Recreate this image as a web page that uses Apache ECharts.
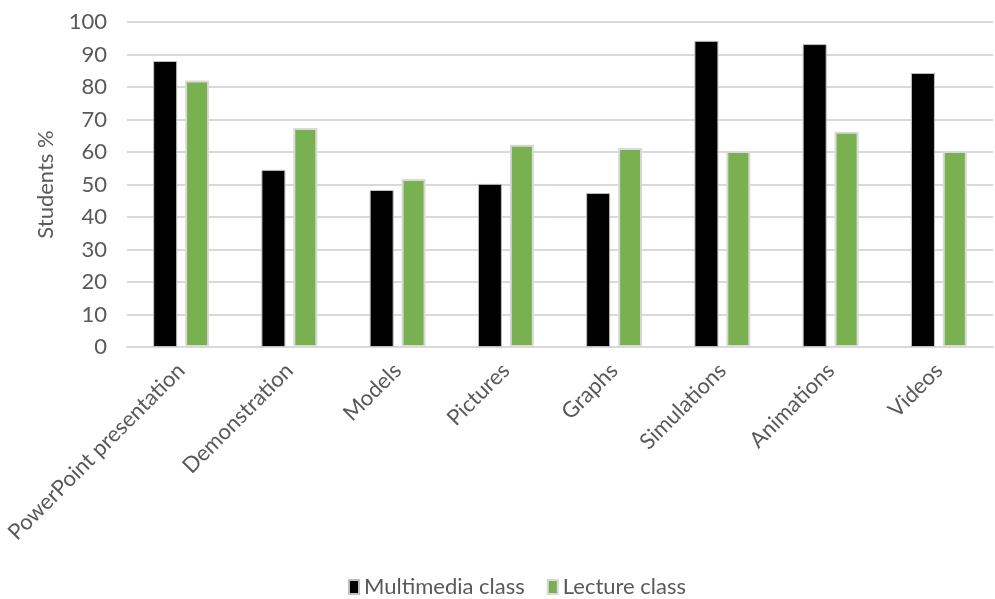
<!DOCTYPE html>
<html>
<head>
<meta charset="utf-8">
<script src="https://cdn.jsdelivr.net/npm/echarts@6/dist/echarts.min.js"></script>
<style>html,body{margin:0;padding:0;background:#fff;}#c{width:995px;height:599px;}</style>
</head>
<body>
<div id="c"></div>
<script>
const categories = ['PowerPoint presentation','Demonstration','Models','Pictures','Graphs','Simulations','Animations','Videos'];
const multimedia = [88, 54.5, 48.3, 50.2, 47.4, 94.2, 93.2, 84.3];
const lecture = [82, 67.4, 51.7, 62.2, 61.2, 60.3, 66.2, 60.3];
const yTicks = {min: 0, max: 100, interval: 10};

const font = 'Lato';
const chart = echarts.init(document.getElementById('c'));
chart.setOption({
  animation: false,
  textStyle: {fontFamily: font},
  grid: {left: 127, right: 2, top: 22, bottom: 252, containLabel: false},
  legend: {
    top: 571, left: 343,
    itemWidth: 10, itemHeight: 14, itemGap: 22,
    textStyle: {fontSize: 22, color: '#595959', fontFamily: font},
    data: [
      {name: 'Multimedia class', icon: 'rect'},
      {name: 'Lecture class', icon: 'rect'}
    ]
  },
  xAxis: {
    type: 'category',
    data: categories,
    axisTick: {show: false},
    axisLine: {lineStyle: {color: '#d9d9d9', width: 2}},
    axisLabel: {rotate: 45, fontSize: 22, color: '#595959', margin: 20, interval: 0, fontFamily: font}
  },
  yAxis: {
    type: 'value',
    min: yTicks.min, max: yTicks.max, interval: yTicks.interval,
    name: 'Students %',
    nameLocation: 'middle',
    nameGap: 70,
    nameTextStyle: {fontSize: 22, color: '#595959', fontFamily: font},
    axisLine: {show: false},
    axisTick: {show: false},
    axisLabel: {fontSize: 22, color: '#595959', margin: 20, fontFamily: font},
    splitLine: {lineStyle: {color: '#d9d9d9', width: 2}}
  },
  series: [
    {
      name: 'Multimedia class', type: 'bar', data: multimedia,
      barWidth: 24, barGap: '33%',
      itemStyle: {color: '#000000', borderColor: '#bfbfbf', borderWidth: 1}
    },
    {
      name: 'Lecture class', type: 'bar', data: lecture,
      barWidth: 24,
      itemStyle: {color: '#7ab150', borderColor: '#d9d9d9', borderWidth: 2}
    }
  ]
});
</script>
</body>
</html>
